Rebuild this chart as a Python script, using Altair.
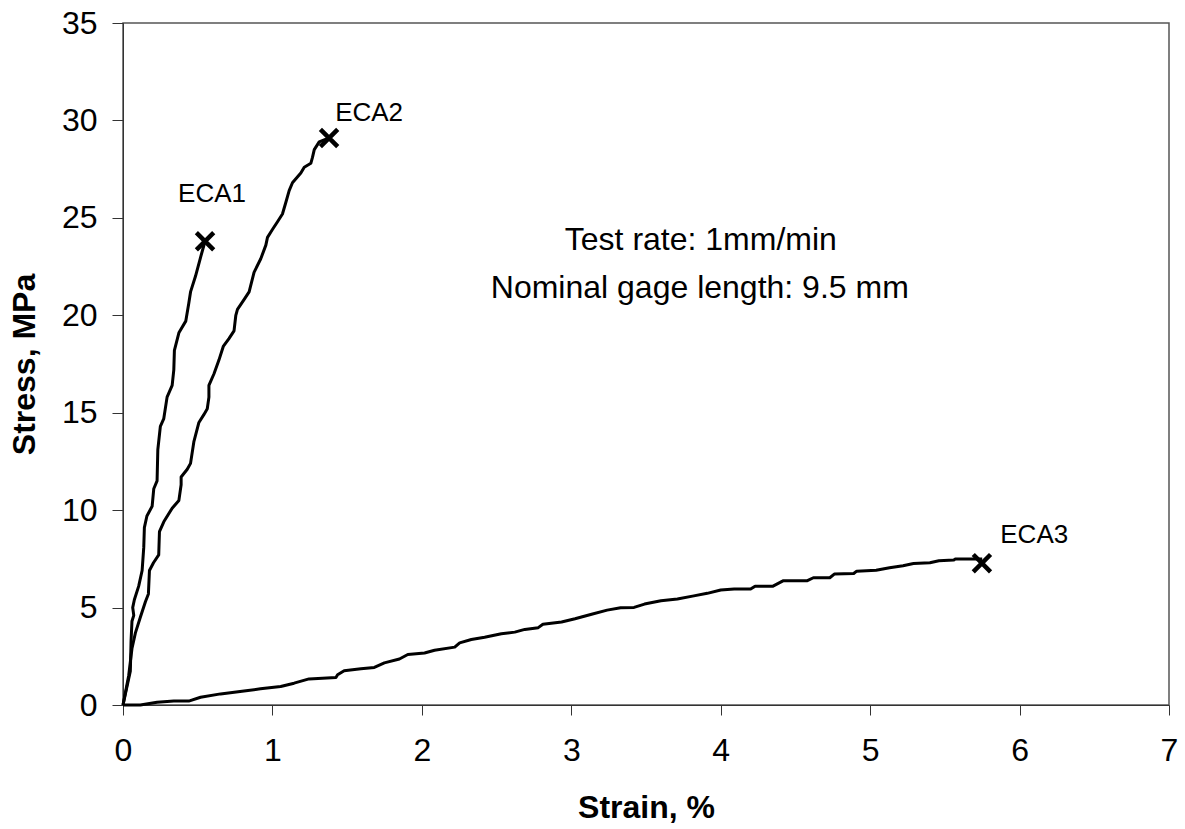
import altair as alt
import pandas as pd

# ---- data ----
eca1_strain = [0, 0.049, 0.054, 0.06, 0.072, 0.065, 0.076, 0.105, 0.128, 0.139, 0.143, 0.16,
               0.195, 0.206, 0.228, 0.233, 0.25, 0.273, 0.295, 0.329, 0.34, 0.344, 0.374, 0.42,
               0.44, 0.452, 0.485, 0.52, 0.549]
eca1_stress = [0, 1.73, 3.3, 4.3, 4.6, 5.0, 5.4, 6.1, 6.9, 8.1, 9.1, 9.7,
               10.2, 11.1, 11.5, 13.1, 14.3, 14.7, 15.8, 16.4, 17.2, 18.2, 19.1, 19.7,
               20.6, 21.2, 22.0, 23.0, 23.8]

eca2_strain = [0, 0.038, 0.06, 0.083, 0.116, 0.15, 0.17, 0.177, 0.204, 0.239, 0.244, 0.273,
               0.329, 0.374, 0.389, 0.389, 0.43, 0.452, 0.474, 0.508, 0.541, 0.564, 0.575,
               0.575, 0.609, 0.642, 0.671, 0.709, 0.743, 0.755, 0.766, 0.81, 0.844, 0.877,
               0.922, 0.956, 0.967, 1.0, 1.034, 1.067, 1.09, 1.112, 1.134, 1.19, 1.213,
               1.257, 1.268, 1.28, 1.313, 1.379]
eca2_stress = [0, 1.5, 2.9, 3.7, 4.5, 5.3, 5.7, 6.9, 7.3, 7.7, 8.9, 9.4,
               10.1, 10.5, 11.3, 11.7, 12.1, 12.4, 13.5, 14.5, 14.9, 15.2, 15.8,
               16.4, 17.0, 17.7, 18.4, 18.8, 19.2, 20.0, 20.3, 20.8, 21.2, 22.2,
               22.9, 23.6, 24.0, 24.4, 24.8, 25.2, 25.8, 26.4, 26.8, 27.3, 27.6,
               27.8, 28.1, 28.5, 28.9, 29.1]

eca3_strain = [0, 0.116, 0.228, 0.34, 0.44, 0.519, 0.653, 0.81, 0.92, 1.055, 1.145, 1.245,
               1.425, 1.436, 1.48, 1.592, 1.682, 1.749, 1.85, 1.906, 2.018, 2.085, 2.22,
               2.253, 2.331, 2.42, 2.532, 2.622, 2.689, 2.779, 2.81, 2.935, 3.025, 3.136,
               3.24, 3.33, 3.42, 3.49, 3.6, 3.71, 3.82, 3.91, 4.0, 4.09, 4.2, 4.23, 4.35,
               4.42, 4.58, 4.62, 4.73, 4.76, 4.89, 4.91, 5.04, 5.13, 5.22, 5.29, 5.4, 5.46,
               5.56, 5.57, 5.75]
eca3_stress = [0, 0, 0.14, 0.2, 0.2, 0.4, 0.57, 0.72, 0.83, 0.95, 1.12, 1.34,
               1.41, 1.55, 1.76, 1.86, 1.93, 2.16, 2.36, 2.59, 2.67, 2.81, 2.97,
               3.19, 3.36, 3.48, 3.66, 3.74, 3.88, 3.97, 4.14, 4.26, 4.43, 4.66,
               4.87, 4.99, 5.01, 5.18, 5.35, 5.44, 5.6, 5.73, 5.9, 5.95, 5.95, 6.1, 6.1,
               6.38, 6.38, 6.53, 6.53, 6.72, 6.75, 6.87, 6.92, 7.04, 7.15, 7.26, 7.3, 7.4,
               7.44, 7.49, 7.49]

specimens = ["ECA1", "ECA2", "ECA3"]
failure_strain = [0.549, 1.379, 5.748]
failure_stress = [23.8, 29.1, 7.28]
label_strain = [0.596, 1.647, 6.098]
label_stress = [25.82, 29.96, 8.31]

note_lines = ["Test rate: 1mm/min", "Nominal gage length: 9.5 mm"]
note_strain = [3.867, 3.86]
note_stress = [23.35, 20.87]

x_ticks = [0, 1, 2, 3, 4, 5, 6, 7]
y_ticks = [0, 5, 10, 15, 20, 25, 30, 35]

# ---- tables ----
rows = []
for name, xs, ys in [("ECA1", eca1_strain, eca1_stress),
                     ("ECA2", eca2_strain, eca2_stress),
                     ("ECA3", eca3_strain, eca3_stress)]:
    for i, (sx, sy) in enumerate(zip(xs, ys)):
        rows.append({"specimen": name, "strain": sx, "stress": sy, "order": i})
curves = pd.DataFrame(rows)

fails = pd.DataFrame({"specimen": specimens, "strain": failure_strain, "stress": failure_stress})
labels = pd.DataFrame({"specimen": specimens, "strain": label_strain, "stress": label_stress})
notes = pd.DataFrame({"text": note_lines, "strain": note_strain, "stress": note_stress})

FONT = "Liberation Sans"
x_scale = alt.Scale(domain=[0, 7], nice=False, zero=False)
y_scale = alt.Scale(domain=[0, 35], nice=False, zero=False)

x_axis = alt.Axis(title="Strain, %", values=x_ticks, format="d", grid=False, labelFlush=False,
                  labelFont=FONT, labelFontSize=32, labelColor="black", labelPadding=20,
                  tickSize=10, tickColor="#333333", domainColor="#333333",
                  titleFont=FONT, titleFontSize=32, titleFontWeight="bold", titleColor="black",
                  titleY=112, titleBaseline="alphabetic")
y_axis = alt.Axis(title="Stress, MPa", values=y_ticks, format="d", grid=False, labelFlush=False,
                  labelFont=FONT, labelFontSize=32, labelColor="black", labelPadding=15,
                  tickSize=11, tickColor="#333333", domainColor="#333333",
                  titleFont=FONT, titleFontSize=32, titleFontWeight="bold", titleColor="black",
                  titleX=-89, titleBaseline="alphabetic")

lines = alt.Chart(curves).mark_line(color="black", strokeWidth=3, strokeJoin="round").encode(
    x=alt.X("strain:Q", scale=x_scale, axis=x_axis),
    y=alt.Y("stress:Q", scale=y_scale, axis=y_axis),
    detail="specimen:N",
    order="order:Q",
)

xmarks = alt.Chart(fails).mark_point(
    shape="M-1,-1L1,1M1,-1L-1,1", filled=False, color="black", strokeWidth=4.5, size=300, opacity=1
).encode(x=alt.X("strain:Q", scale=x_scale), y=alt.Y("stress:Q", scale=y_scale))

name_text = alt.Chart(labels).mark_text(
    font=FONT, fontSize=26, color="black", align="center", baseline="alphabetic"
).encode(x=alt.X("strain:Q", scale=x_scale), y=alt.Y("stress:Q", scale=y_scale), text="specimen:N")

note_text = alt.Chart(notes).mark_text(
    font=FONT, fontSize=32, color="black", align="center", baseline="alphabetic"
).encode(x=alt.X("strain:Q", scale=x_scale), y=alt.Y("stress:Q", scale=y_scale), text="text:N")

chart = alt.layer(lines, xmarks, name_text, note_text).properties(
    width=1046, height=682,
    padding={"left": 123, "top": 23, "right": 16, "bottom": 124},
    autosize=alt.AutoSizeParams(type="none"),
    background="white",
).configure_view(stroke="#555555", strokeWidth=1.5)

chart.save("out.html", embed_options={"renderer": "svg", "actions": False})
